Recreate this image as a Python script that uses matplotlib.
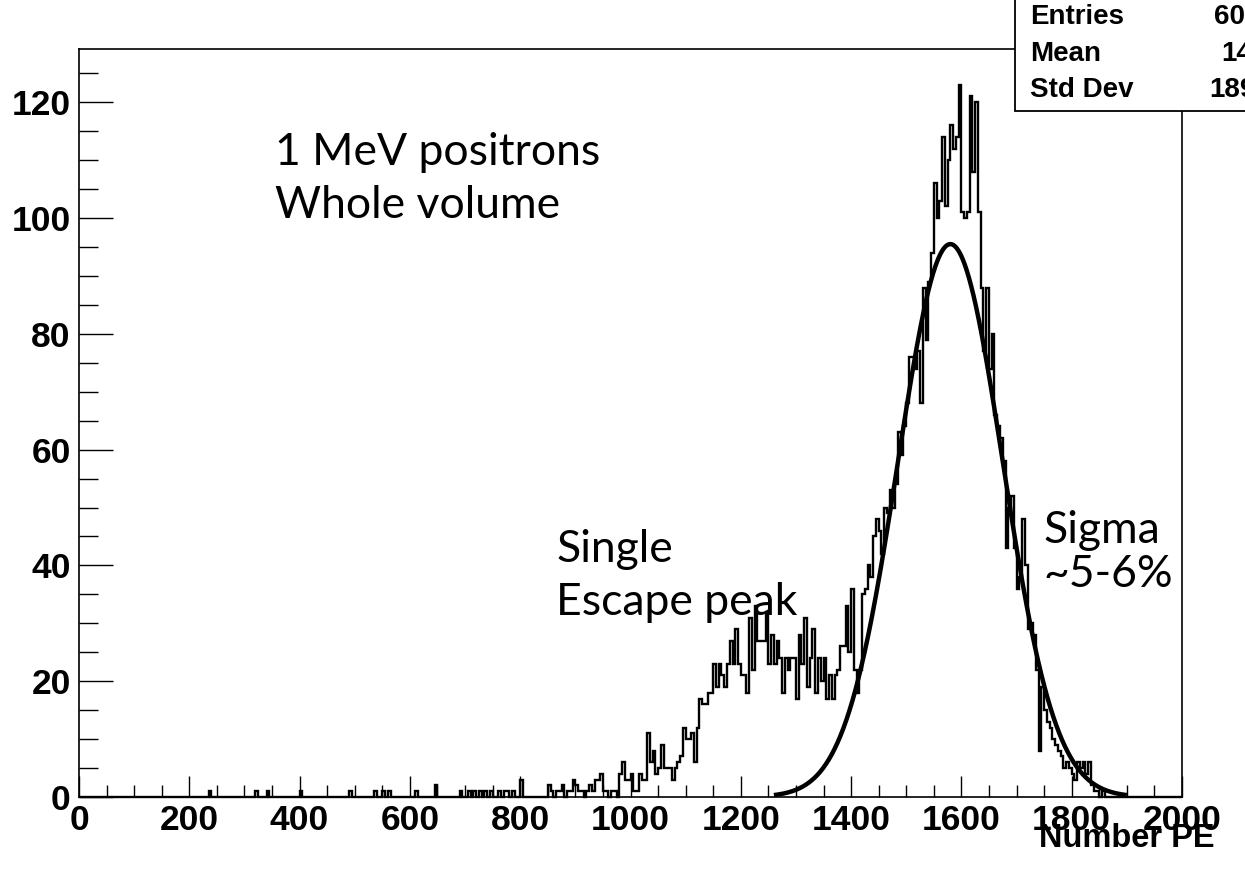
import numpy as np
import matplotlib
matplotlib.use("Agg")
import matplotlib.pyplot as plt
from matplotlib.ticker import MultipleLocator
from matplotlib.patches import Rectangle

# ---------------- data ----------------
bin_width = 5
x_min, x_max = 0, 2000

# counts per 5-PE bin, grouped by 100-PE blocks (20 bins per row)
counts_0000_0795 = [
    0,0,0,0,0,0,0,0,0,0,0,0,0,0,0,0,0,0,0,0,      # 0-95
    0,0,0,0,0,0,0,0,0,0,0,0,0,0,0,0,0,0,0,0,      # 100-195
    0,0,0,0,0,0,0,1,0,0,0,0,0,0,0,0,0,0,0,0,      # 200-295
    0,0,0,0,1,0,0,0,1,0,0,0,0,0,0,0,0,0,0,0,      # 300-395
    1,0,0,0,0,0,0,0,0,0,0,0,0,0,0,0,0,0,1,0,      # 400-495
    0,0,0,0,0,0,0,1,0,0,1,0,1,0,0,0,0,0,0,0,      # 500-595
    0,0,1,0,0,0,0,0,0,2,0,0,0,0,0,0,0,0,1,0,      # 600-695
    0,1,0,1,0,1,0,1,0,1,0,0,1,0,1,1,0,1,0,0,      # 700-795
]
counts_0800_1395 = [
    3,0,0,0,0,0,0,0,0,0,2,1,0,1,1,2,0,1,1,3,      # 800-895
    2,1,1,0,1,2,1,3,3,4,1,1,0,1,1,0,4,6,3,3,      # 900-995
    4,1,1,4,3,3,11,6,8,4,5,9,5,5,5,3,5,6,7,12,    # 1000-1095
    10,10,11,6,12,17,16,16,18,18,23,19,23,21,19,23,27,23,29,23,   # 1100-1195
    21,21,18,31,22,33,27,27,27,32,23,28,23,27,24,18,24,22,24,24,  # 1200-1295
    17,28,23,31,19,24,29,18,24,20,24,17,21,17,21,22,26,26,33,25,  # 1300-1395
]
counts_1400_1995 = [
    36,22,18,22,35,36,40,38,45,48,46,42,50,49,53,50,54,63,59,64,            # 1400-1495
    68,76,76,74,77,68,88,79,89,94,106,100,103,114,102,110,116,112,114,123,  # 1500-1595
    101,100,101,121,108,120,101,88,77,88,74,80,66,64,62,58,43,50,52,43,     # 1600-1695
    36,38,48,40,29,30,28,22,8,19,15,13,12,10,9,8,7,5,6,5,                   # 1700-1795
    4,3,6,5,6,4,6,2,1,1,0,1,0,0,0,0,0,0,0,0,                                # 1800-1895
    0,0,0,0,0,0,0,0,0,0,0,0,0,0,0,0,0,0,0,0,                                # 1900-1995
]

# Gaussian fit parameters
fit_amp = 95.5
fit_mean = 1580.0
fit_sigma = 95.0
fit_range = (1260, 1900)

x_ticks = [0, 200, 400, 600, 800, 1000, 1200, 1400, 1600, 1800, 2000]
y_ticks = [0, 20, 40, 60, 80, 100, 120]
y_max = 129.2
x_title = "Number PE"

stats_labels = ["Entries", "Mean", "Std Dev"]
stats_values = ["6000", "1475", "189.5"]

notes = [
    ("1 MeV positrons", 355, 109.2),
    ("Whole volume", 355, 100.0),
    ("Single", 865, 40.6),
    ("Escape peak", 865, 31.4),
    ("Sigma", 1748, 43.8),
    ("~5-6%", 1748, 36.2),
]

# ---------------- figure ----------------
W, H = 1245, 873
fig = plt.figure(figsize=(W / 100, H / 100), dpi=100)
ax = fig.add_axes([79 / W, 1 - 797 / H, (1182 - 79) / W, (797 - 49) / H])

counts = np.array(counts_0000_0795 + counts_0800_1395 + counts_1400_1995, dtype=float)
edges = np.arange(x_min, x_max + bin_width, bin_width)

ax.stairs(counts, edges, color="black", linewidth=1.7, clip_on=False, zorder=3)

xf = np.linspace(fit_range[0], fit_range[1], 600)
yf = fit_amp * np.exp(-0.5 * ((xf - fit_mean) / fit_sigma) ** 2)
ax.plot(xf, yf, color="black", linewidth=3.2, zorder=4, solid_capstyle="butt")

ax.set_xlim(x_min, x_max)
ax.set_ylim(0, y_max)

tick_font = dict(family="Liberation Sans", weight="bold", size=25.5)
ax.set_xticks(x_ticks, labels=[str(v) for v in x_ticks], **tick_font)
ax.set_yticks(y_ticks, labels=[str(v) for v in y_ticks], **tick_font)
ax.xaxis.set_minor_locator(MultipleLocator(50))
ax.yaxis.set_minor_locator(MultipleLocator(5))
ax.tick_params(axis="y", which="major", direction="in", length=24.5, width=1.0, pad=6, colors="black")
ax.tick_params(axis="y", which="minor", direction="in", length=13.7, width=1.0)
ax.tick_params(axis="x", which="major", direction="in", length=15, width=1.0, pad=5)
ax.tick_params(axis="x", which="minor", direction="in", length=8.6, width=1.0)
ax.tick_params(top=False, right=False, which="both")
for s in ax.spines.values():
    s.set_linewidth(1.2)
    s.set_color("black")

fig.text(1215 / W, 1 - 847 / H, x_title, ha="right", va="baseline",
         family="Liberation Sans", weight="bold", size=23.5)

for txt, xd, yd in notes:
    ax.text(xd, yd, txt, ha="left", va="baseline", family="Lato", size=32,
            color="black", zorder=5)

# stats box (partially outside the canvas)
box = Rectangle((1015 / W, 1 - 111 / H), 0.3, 0.3, transform=fig.transFigure,
                facecolor="white", edgecolor="black", linewidth=1.3, zorder=5,
                clip_on=False)
fig.add_artist(box)
stat_y = [17, 54, 90]
stat_vx = [1214, 1221, 1209]
for lab, val, yy, vx in zip(stats_labels, stats_values, stat_y, stat_vx):
    fig.text(1030 / W, 1 - yy / H, lab, ha="left", va="center",
             family="Liberation Sans", weight="bold", size=20, zorder=6)
    fig.text(vx / W, 1 - yy / H, val, ha="left", va="center",
             family="Liberation Sans", weight="bold", size=20, zorder=6)

fig.savefig("out.png", dpi=100)
